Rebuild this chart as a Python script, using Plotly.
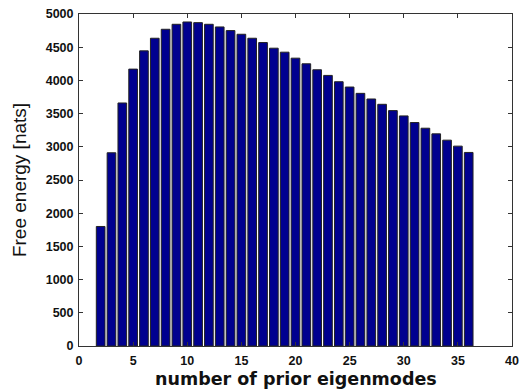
import plotly.graph_objects as go

modes = list(range(2, 37))
free_energy = [1800, 2910, 3660, 4170, 4445, 4635, 4770, 4845, 4880, 4870,
               4845, 4805, 4750, 4695, 4635, 4570, 4485, 4425, 4335, 4250,
               4160, 4075, 3980, 3900, 3805, 3720, 3640, 3545, 3465, 3365,
               3280, 3195, 3100, 3010, 2915]
x_ticks = [0, 5, 10, 15, 20, 25, 30, 35, 40]
y_ticks = [0, 500, 1000, 1500, 2000, 2500, 3000, 3500, 4000, 4500, 5000]

fig = go.Figure(go.Bar(
    x=modes, y=free_energy, width=0.8,
    marker=dict(color="#00008F", line=dict(color="#222222", width=1)),
))

axis_common = dict(
    showline=True, linecolor="#333333", linewidth=1, mirror="ticks",
    ticks="inside", ticklen=4, tickcolor="#333333", showgrid=False, zeroline=False,
    tickfont=dict(family="Liberation Sans, Arial", size=12.5, color="#111111", weight="bold"),
)

fig.update_layout(
    width=526, height=391,
    margin=dict(l=79, r=7, t=14, b=45),
    paper_bgcolor="white", plot_bgcolor="white",
    showlegend=False,
    xaxis=dict(range=[0, 40], tickvals=x_ticks, ticktext=[str(v) for v in x_ticks],
               ticklabelstandoff=3, **axis_common),
    yaxis=dict(range=[0, 5000], tickvals=y_ticks, ticktext=[str(v) for v in y_ticks],
               ticklabelstandoff=2,
               title=dict(text="Free energy [nats]", standoff=14,
                          font=dict(family="Liberation Sans, Arial", size=19, color="#111111")),
               **axis_common),
    annotations=[dict(
        text="number of prior eigenmodes", xref="paper", yref="paper",
        x=0.5, y=-0.098, xanchor="center", yanchor="middle", showarrow=False,
        font=dict(family="DejaVu Sans", size=17.5, color="#111111", weight="bold"),
    )],
)

fig.write_html("out.html")
